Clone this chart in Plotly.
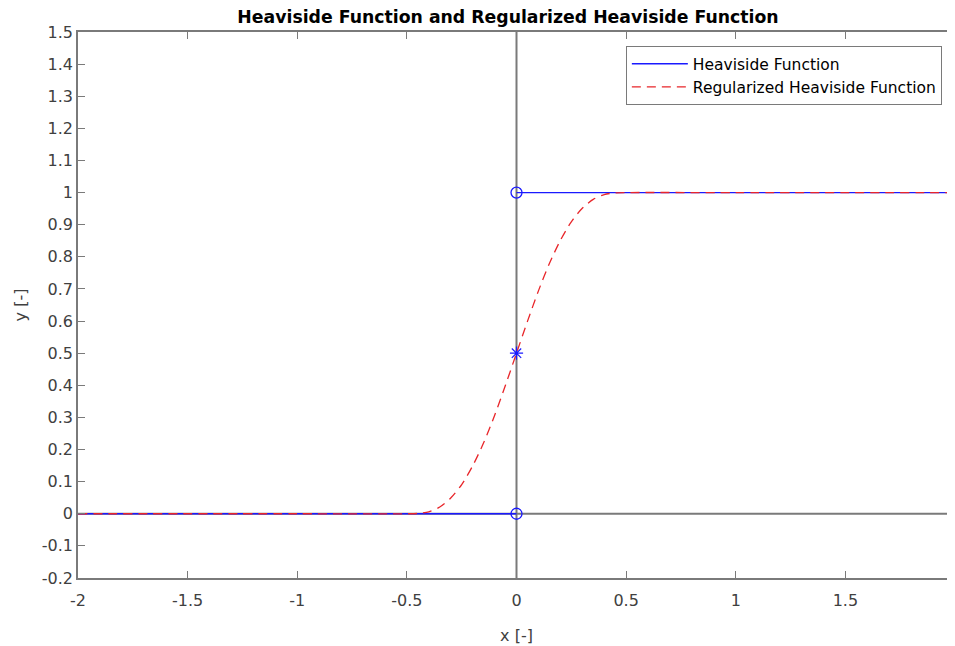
import plotly.graph_objects as go

# Heaviside step (two pieces)
heav_x = [-2.0, 0.0, None, 0.0, 2.0]
heav_y = [0.0, 0.0, None, 1.0, 1.0]

# Special points at the jump
open_x = [0.0, 0.0]
open_y = [0.0, 1.0]
mid_x = [0.0]
mid_y = [0.5]

# Regularized Heaviside
reg_x = [-2.0, -1.0, -0.50, -0.45, -0.40, -0.35, -0.30, -0.25, -0.20, -0.15, -0.10, -0.05,
         0.0, 0.05, 0.10, 0.15, 0.20, 0.25, 0.30, 0.35, 0.40, 0.45, 0.50, 1.0, 2.0]
reg_y = [0.0, 0.0, 0.0, 0.001, 0.006, 0.021, 0.049, 0.091, 0.149, 0.221, 0.306, 0.401,
         0.5, 0.599, 0.694, 0.779, 0.851, 0.909, 0.951, 0.979, 0.994, 0.999, 1.0, 1.0, 1.0]

# Reference lines
vline_x = [0.0, 0.0]
vline_y = [-0.2, 1.5]
hline_x = [-2.0, 2.0]
hline_y = [0.0, 0.0]

x_ticks = [-2, -1.5, -1, -0.5, 0, 0.5, 1, 1.5, 2]
x_ticktext = ["-2", "-1.5", "-1", "-0.5", "0", "0.5", "1", "1.5", "2"]
y_ticks = [-0.2, -0.1, 0, 0.1, 0.2, 0.3, 0.4, 0.5, 0.6, 0.7, 0.8, 0.9, 1.0,
           1.1, 1.2, 1.3, 1.4, 1.5]
y_ticktext = ["-0.2", "-0.1", "0", "0.1", "0.2", "0.3", "0.4", "0.5", "0.6", "0.7",
              "0.8", "0.9", "1", "1.1", "1.2", "1.3", "1.4", "1.5"]

GRAY = "#7a7a7a"
BLUE = "#1a1aff"
RED = "#e8262a"
FONT = "DejaVu Sans, Liberation Sans, Arial, sans-serif"
TXT = "#404040"

# page body has an 8px margin: figure is sized so the plot lands where it should
W, H = 947, 638

fig = go.Figure()
fig.add_trace(go.Scatter(x=hline_x, y=hline_y, mode="lines",
                         line=dict(color=GRAY, width=2), showlegend=False, hoverinfo="skip"))
fig.add_trace(go.Scatter(x=vline_x, y=vline_y, mode="lines",
                         line=dict(color=GRAY, width=2), showlegend=False, hoverinfo="skip"))
fig.add_trace(go.Scatter(x=heav_x, y=heav_y, mode="lines", name="Heaviside Function",
                         line=dict(color=BLUE, width=1.3)))
fig.add_trace(go.Scatter(x=reg_x, y=reg_y, mode="lines", name="Regularized Heaviside Function",
                         line=dict(color=RED, width=1.3, dash="9px,6px", shape="spline", smoothing=0.8)))
fig.add_trace(go.Scatter(x=open_x, y=open_y, mode="markers", showlegend=False,
                         marker=dict(symbol="circle-open", size=11, color=BLUE,
                                     line=dict(width=1.3, color=BLUE))))
fig.add_trace(go.Scatter(x=mid_x, y=mid_y, mode="markers", showlegend=False,
                         marker=dict(symbol="asterisk-open", size=11, color=BLUE,
                                     line=dict(width=1.2, color=BLUE))))

axis_common = dict(showgrid=False, zeroline=False, showline=True, linecolor=GRAY,
                   linewidth=1.5, mirror="ticks", ticks="inside", ticklen=7,
                   tickcolor=GRAY, tickwidth=1, automargin=False,
                   tickfont=dict(family=FONT, size=16, color=TXT))

fig.update_layout(
    width=W, height=H, autosize=False,
    margin=dict(l=70, r=0, t=24, b=68),
    paper_bgcolor="white", plot_bgcolor="white",
    title=dict(text="<b>Heaviside Function and Regularized Heaviside Function</b>",
               x=500 / W, xanchor="center", y=1 - 3 / H, yanchor="top", pad=dict(t=0, b=0),
               font=dict(family=FONT, size=17.3, color="#000000")),
    xaxis=dict(range=[-2, 2], tickvals=x_ticks, ticktext=x_ticktext, ticklabelstandoff=7,
               ticklabeloverflow="allow",
               title=dict(text="x [-]", standoff=21,
                          font=dict(family=FONT, size=16, color=TXT)),
               **axis_common),
    yaxis=dict(range=[-0.2, 1.5], tickvals=y_ticks, ticktext=y_ticktext,
               title=dict(text="y [-]", standoff=11,
                          font=dict(family=FONT, size=16, color=TXT)),
               **axis_common),
    legend=dict(x=0.985, xanchor="right", y=0.974, yanchor="top",
                bgcolor="white", bordercolor=GRAY, borderwidth=1,
                itemwidth=56, tracegroupgap=0,
                font=dict(family=FONT, size=15.5, color="#000000")),
    showlegend=True,
)

fig.write_html("out.html")
